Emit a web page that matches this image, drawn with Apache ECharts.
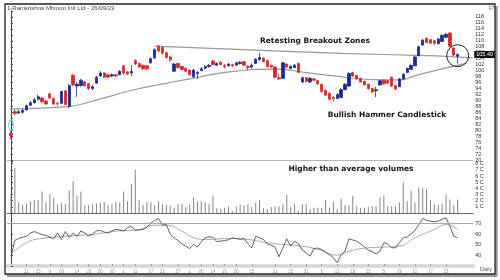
<!DOCTYPE html>
<html><head><meta charset="utf-8">
<script src="https://cdn.jsdelivr.net/npm/echarts@6/dist/echarts.min.js"></script>
<style>html,body{margin:0;padding:0;background:#fff}#c{width:500px;height:280px}</style>
</head><body><div id="c"></div>
<script>
// ---- price data (one candle per trading day) ----
const opens  = [79,86.2,85.8,86,86.8,88.4,89.2,90.4,90.8,89.8,
  92.2,90.6,89,89,93.2,88,98.4,94.8,95,96.2,
  95.6,94,95.8,98.2,99.2,98.6,98.2,98.6,98.6,101.6,
  99.6,99.2,103.4,102.4,101.8,101.6,102.6,104.2,108.2,107.8,
  106,104.6,99.8,102.4,101.4,100.8,100.2,97.9,99,100,
  100.8,101.4,103.2,101.8,102.8,101.6,101.6,102,101.8,102.4,
  103,101.4,101.2,102.4,103.6,104.2,103.4,101.8,101.2,97.6,
  97.4,102.2,100.8,101,102.4,96.2,97.6,96.2,97.2,96.6,
  95.4,93.4,92.4,91,90.6,91,93.6,94.8,99.4,98.4,
  97.4,96.4,95.4,94,93.2,95.2,96.8,96.6,97.8,95,
  94.6,97.2,99.4,100.4,101.6,105,108.6,110.8,110.4,110,
  109,109.8,111.2,112.6,107.6,104.8];
const closes = [78.2,85.6,86.2,86.6,88.2,89.2,90.2,91.2,89.6,88.8,
  90.8,88.8,88.8,93,88.6,95,95.2,95.4,96.8,95,
  94,94.6,97.8,99.2,97.8,97.8,98.6,98.2,99.8,99.2,
  98.8,99.8,102.2,101.2,100.6,100.6,104,107,106.6,105.8,
  104.4,103.6,102.2,101,100.4,99.8,98.6,100.2,99.4,100.6,
  101.4,101.8,102,102.4,102,101.2,102.2,101.6,102.6,102.8,
  101.8,101,101.8,103.8,104.4,103,101.4,101.2,97.8,97.2,
  102.6,101.2,101.4,101.8,99.4,97.6,96.4,97.4,96.8,95.6,
  93,91.8,90.4,90.6,92,93.6,95.4,99,98.2,97.2,
  96.2,95.2,94,92.8,93.6,96.6,95.6,95.8,94.8,93.8,
  97.2,98.8,100.8,101.8,104.6,108,110.2,109.4,109.2,109.2,
  110.6,111.8,112.2,108.2,105.2,105.4];
const lows   = [77,85,85.4,85.6,86.6,88,89,90,89.2,88.5,
  90.6,88.5,88.2,88.8,88.4,87.4,94.8,91.2,94.6,94.6,
  93.5,93.5,95.6,98,97.5,97.5,97.8,97.9,98.5,98.5,
  98.5,98,101.9,100.9,100.2,100.2,102.4,104,106.2,105.4,
  104,103,99.5,100.8,100,99.4,98.4,97.6,97.2,99.8,
  100.4,101,101.9,101.6,101.8,100.8,101.4,101.2,101.6,102,
  101.6,100.2,100.6,102.2,103.4,102.8,101,100.8,97.5,96.9,
  97.2,100.8,100.4,100.8,99.2,95.8,96,95.8,96.4,95.2,
  92.6,91.4,90.1,89.6,90.4,90.8,93.4,94.5,97.9,96.9,
  96,95,93.6,92.5,91.1,95,95.2,95.4,94.5,93.5,
  94.5,96.9,99.2,100.2,101.4,104.8,108.4,109.2,109,108.6,
  108.8,109.6,110.8,107.8,104.9,102.4];
const highs  = [80,87,86.8,87.2,88.6,89.8,90.8,91.9,91.2,90.2,
  92.6,91,89.6,93.2,93.6,95.5,98.8,96.3,97.2,96.6,
  95.8,95.2,98.2,99.8,99.4,98.9,99,98.9,100.2,101.9,
  99.8,101.9,103.8,102.6,102,101.9,104.4,107.4,108.6,108,
  106.4,105,102.6,102.6,101.6,101,100.4,100.5,99.8,101.2,
  101.8,102.2,103.6,102.8,103.2,102.2,102.6,102.3,103,103.2,
  103.2,101.8,102.4,104.2,106,104.4,103.6,102,101.4,99,
  102.9,102.4,101.8,102.2,102.6,98,97.8,97.8,97.6,96.8,
  95.6,93.6,92.6,91.4,92.4,94.2,95.8,99.5,99.6,98.6,
  97.6,96.6,95.6,94.2,94.5,96.9,97,96.9,98,95.2,
  97.5,99.2,101,102,105,108.4,110.6,111.2,110.6,110.2,
  111,112.2,112.6,113,107.8,105.8];
const lastPrice = 105.4;

// ---- volume (in crore units, axis "1 C".."8 C") ----
const volumes = [3.1,7.3,1.8,1.3,1.4,1.9,2.1,2.1,3.5,1.7,
  3.1,2.5,1.4,1.6,1.4,3.7,5.2,2.9,3.5,1.25,
  1.25,1.4,1.6,1.7,1.8,1.3,1.5,1.8,1.7,3.5,
  1.9,4.7,7.0,2.1,1.3,1.8,1.8,1.25,1.9,1.4,
  1.25,1.2,0.86,1.4,1.5,0.97,1.4,2.6,1.9,1.9,
  1.7,1.4,2.8,0.76,0.7,0.86,1.1,0.32,1.1,1.4,
  1.25,1.4,0.97,1.7,2.1,0.76,0.6,0.97,1.0,1.1,
  1.4,3.0,0.97,1.4,0.32,1.4,1.5,0.6,0.86,0.86,
  0.86,2.1,0.86,1.8,0.6,2.3,1.25,1.25,2.8,1.1,
  0.86,0.86,0.97,1.1,1.1,2.5,2.8,1.1,1.1,1.1,
  1.7,5.0,1.9,3.6,1.7,4.1,4.0,3.85,2.1,1.4,
  1.3,1.5,3.0,2.2,1.25,2.2];

// ---- RSI and its average ----
const rsi = [39,54,56,57,58,61,62.5,61,59.5,59,
  57,55.6,61,55,62.5,57,61,58,63,61,
  58.5,60,63,63.5,62,61,63,64.5,64,63,
  66,67.5,63.5,64,64.5,66.5,70.5,73,74.7,68.5,
  69,60,56.5,54,51,48.5,46.5,50.3,47.8,53,
  56.6,57.6,57,53,53.5,54,54.7,56.5,56,55,
  56,51,47.2,58,56.5,55,51,49.5,47.8,38.8,
  47,55.6,48.7,53.4,51,45,42.5,39.3,46.5,47,
  45.5,43,40.9,37.8,33.1,40.9,44,55.6,54.5,53.4,
  50.9,48,45,43.5,41.5,44,51.9,50.9,47.2,47.2,
  52,56.6,57.2,60.3,63.4,69,74.7,73,72.2,71.6,
  72.2,74,75.3,67.5,58.1,56.6];
const rsiAvg = [[0,41],[4,52],[8,56],[14,58],[21,59.7],[27,62.8],[33,64.4],[37,68.4],[40,68.4],[44,62.8],[47,56.6],[50,55],[56,55.9],[61,55],[66,51.9],[70,50.3],[75,48.7],[79,45.6],[84,40.3],[87,44],[92,47.2],[96,47.8],[100,48.7],[104,56.6],[109,64.4],[112,69],[115,64.4]];

// ---- drawn annotation lines (index, price) ----
const breakoutLine = [[37,108.2],[85,105.8],[107,105],[118.8,104.3]];
const supportCurve = [[-0.3,87.1],[14,87.8],[23,90.5],[31.4,93.5],[40.2,95.8],[47,97.5],[55.6,99.5],[68.5,100.5],[75.2,99.5],[82,98.4],[95,96.9],[100.2,96.9],[104.5,98.5],[117.3,102.5]];

// ---- date ticks ----
const dateIdx = [4,7,10,13,17,20,23,26,29,32,36,39,43,46,49,52,55,58,62,68,72,76,80,84,88,92,96,100,104,108,112];
const dateLabels = ['21','25','9','09','14','20','26','30','1','11','17','23','27','1','06','14','20','26','15','21','25','31','6','12','18','25','5','09','11','17','23'];

const candleData = opens.map((o,i)=>[i,o,closes[i],lows[i],highs[i]]);
const volData = volumes.map((v,i)=>[i,v]);
const rsiData = rsi.map((v,i)=>[i,v]);

const chart = echarts.init(document.getElementById('c'), null, {renderer:'canvas'});
const gl = 7.1, gr = 26.8;
const xBase = {type:'value', min:-1, max:119, splitLine:{show:false}, axisLabel:{show:false}, axisTick:{show:false}};
const yBase = {type:'value', position:'right', splitLine:{show:false},
  axisLine:{show:true, lineStyle:{color:'#444', width:1}},
  axisTick:{show:true, length:2, lineStyle:{color:'#444'}},
  axisLabel:{fontSize:5.5, color:'#333', margin:2, fontFamily:'Liberation Sans'}};
const F = 'DejaVu Sans';

chart.setOption({
  animation:false,
  backgroundColor:'#fff',
  grid:[
    {left:gl, right:gr, top:11, height:149},
    {left:gl, right:gr, top:161, height:52},
    {left:gl, right:gr, top:212.85, height:53.25}
  ],
  xAxis:[
    Object.assign({}, xBase, {gridIndex:0, axisLine:{show:true, onZero:false, lineStyle:{color:'#b5b5b5'}}}),
    Object.assign({}, xBase, {gridIndex:1, axisLine:{show:true, onZero:false, lineStyle:{color:'#666'}}}),
    Object.assign({}, xBase, {gridIndex:2, axisLine:{show:true, onZero:false, lineStyle:{color:'#d6d6d6', width:3.5}},
      axisTick:{show:true, inside:true, length:2, customValues:dateIdx, lineStyle:{color:'#999'}},
      axisLabel:{show:true, customValues:dateIdx, fontSize:4.5, color:'#999', margin:3,
        formatter:(v)=>{const k=dateIdx.indexOf(v); return k>=0?dateLabels[k]:'';}}})
  ],
  yAxis:[
    Object.assign({}, yBase, {gridIndex:0, min:70, max:120, interval:2,
      axisLabel:Object.assign({}, yBase.axisLabel, {formatter:(v)=>v===120?'':String(v)})}),
    Object.assign({}, yBase, {gridIndex:1, min:0, max:8.44, interval:1,
      axisLabel:Object.assign({}, yBase.axisLabel, {formatter:(v)=>(v>=1&&v<=8)?v+' C':''})}),
    Object.assign({}, yBase, {gridIndex:2, min:30, max:80, interval:10,
      axisLabel:Object.assign({}, yBase.axisLabel, {formatter:(v)=>(v>=40&&v<=70)?String(v):''})})
  ],
  series:[
    {type:'line', xAxisIndex:0, yAxisIndex:0, data:supportCurve, smooth:0.5, symbol:'none',
      lineStyle:{color:'#9a9a9a', width:1.2}, z:1},
    {type:'line', xAxisIndex:0, yAxisIndex:0, data:breakoutLine, smooth:0.4, symbol:'none',
      lineStyle:{color:'#9a9a9a', width:1.2}, z:1},
    {type:'candlestick', xAxisIndex:0, yAxisIndex:0, data:candleData,
      encode:{x:0, y:[1,2,3,4]}, barWidth:2.8,
      itemStyle:{color:'#1d2a8e', color0:'#d42a2a', borderColor:'#1d2a8e', borderColor0:'#d42a2a', borderWidth:0.8},
      markLine:{silent:true, symbol:['none','none'], data:[{yAxis:lastPrice}],
        lineStyle:{color:'rgba(0,0,0,0)', width:0},
        label:{show:true, position:'end', distance:1, formatter:lastPrice.toFixed(2), backgroundColor:'#111', color:'#fff',
          fontSize:5.5, padding:[1,2,0,2], fontFamily:'Liberation Sans'}},
      markPoint:{silent:true, label:{show:false}, data:[
        {coord:[115,105], symbol:'circle', symbolSize:22, itemStyle:{color:'rgba(0,0,0,0)', borderColor:'#222', borderWidth:1}},
        {coord:[0,81.7], symbol:'circle', symbolSize:[5,10], itemStyle:{color:'rgba(0,0,0,0)', borderColor:'#5cc9dc', borderWidth:1}}
      ]}, z:3},
    {type:'bar', xAxisIndex:1, yAxisIndex:1, data:volData, barWidth:1,
      itemStyle:{color:'#8a7f8c'}},
    {type:'line', xAxisIndex:2, yAxisIndex:2, data:rsiAvg, smooth:0.5, symbol:'none',
      lineStyle:{color:'#c49e9e', width:1},
      markLine:{silent:true, symbol:['none','none'], data:[{yAxis:70}], label:{show:false},
        lineStyle:{color:'#a8a8a8', width:1, type:'solid'}}},
    {type:'line', xAxisIndex:2, yAxisIndex:2, data:rsiData, symbol:'none',
      lineStyle:{color:'#3a3a3a', width:0.8}}
  ],
  graphic:[
    {type:'rect', shape:{x:5, y:4, width:490, height:270}, style:{fill:'none', stroke:'#222', lineWidth:1.3}, silent:true, z:100},
    {type:'line', shape:{x1:496.5, y1:6, x2:496.5, y2:276}, style:{stroke:'#999', lineWidth:2.5}, silent:true},
    {type:'line', shape:{x1:7, y1:275.8, x2:497, y2:275.8}, style:{stroke:'#999', lineWidth:2.5}, silent:true},
    {type:'text', left:7, top:5.5, style:{text:'1-Ramkrishna Mhmon Intl Ltd - 26/09/23', font:'6px "Liberation Sans"', fill:'#444'}},
    {type:'text', left:489, top:6, style:{text:'F7', font:'4.5px "Liberation Sans"', fill:'#555'}},
    {type:'text', left:480, top:266.5, style:{text:'Daily', font:'5.5px "Liberation Sans"', fill:'#555'}},
    {type:'text', x:315, y:41, style:{text:'Retesting Breakout Zones', font:'bold 7.5px "'+F+'"', fill:'#111', align:'center', verticalAlign:'middle'}},
    {type:'text', x:387, y:115.5, style:{text:'Bullish Hammer Candlestick', font:'bold 7.5px "'+F+'"', fill:'#111', align:'center', verticalAlign:'middle'}},
    {type:'text', x:351, y:169.5, style:{text:'Higher than average volumes', font:'bold 7.5px "'+F+'"', fill:'#111', align:'center', verticalAlign:'middle'}}
  ]
});
</script>
</body></html>
